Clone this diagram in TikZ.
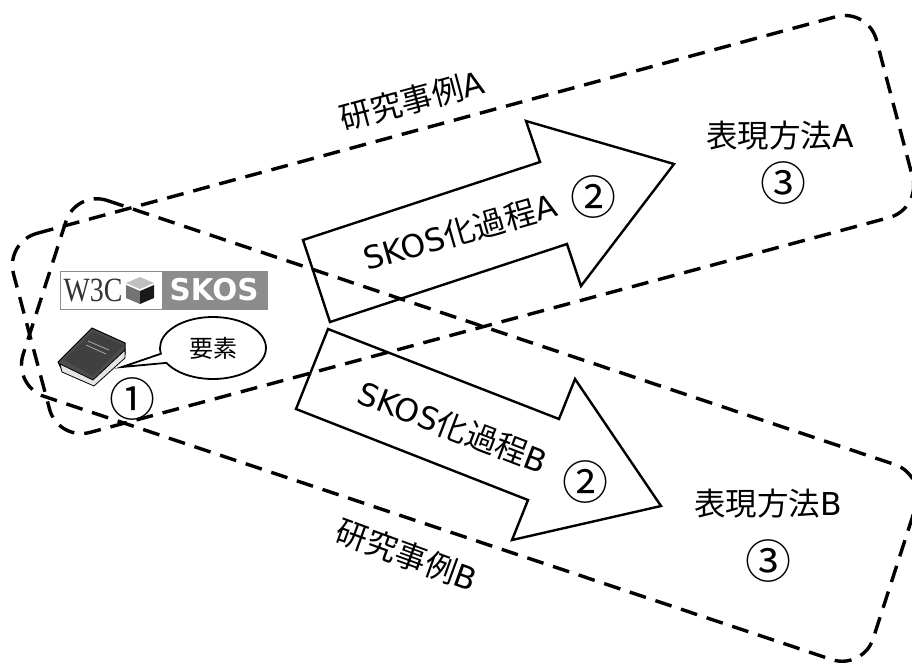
\documentclass[tikz,border=0pt]{standalone}
\usepackage{fontspec}
\setmainfont{DejaVu Sans}
\newfontfamily\jpfont{Noto Sans CJK JP}
\newfontfamily\serfont{Liberation Serif}
\usepackage{tikz}
\usetikzlibrary{positioning,shapes.callouts}
\tikzset{casebox/.style={draw,line width=3.4pt,dash pattern=on 17pt off 10pt,rounded corners=33pt},
    blockarrow/.style={draw,line width=2.4pt,line join=miter},
    caselabel/.style={font=\fontsize{31.5}{34}\selectfont\jpfont},
    numlabel/.style={font=\fontsize{46}{48}\selectfont\jpfont,inner sep=0},
    speech/.style={ellipse callout,draw,line width=1.8pt,fill=white,minimum width=106pt,minimum height=62pt,inner sep=0,font=\fontsize{24}{26}\selectfont\jpfont}
}
\newcommand{\casefour}[4]
{
% args: four corners, clockwise from top left
    \draw [casebox] #1 -- #2 -- #3 -- #4 -- cycle;
}
\newcommand{\processarrow}[7]
{
% args: tail corner, shaft join, head corner, tip, head corner, shaft join, tail corner
    \draw [blockarrow] #1 -- #2 -- #3 -- #4 -- #5 -- #6 -- #7 -- cycle;
}
\begin{document}
\begin{tikzpicture}[x=1pt,y=-1pt]
\useasboundingbox (0,0) rectangle (912,662);
\clip (0,0) rectangle (912,662);

% arrows
\processarrow{(303,240)}{(540,162)}{(526,121)}{(674,164)}{(581,286)}{(567,244)}{(330,322)}
\processarrow{(328,329)}{(559,419)}{(575,379)}{(661,506)}{(512,540)}{(528,500)}{(296,409)}

% case outlines
\casefour{(5,242)}{(868,8)}{(921,209)}{(58,441)}
\casefour{(76,190)}{(926,475)}{(863,670)}{(13,386)}

\node (labelA) [caselabel,rotate=15] at (412,100) {研究事例\fontspec{DejaVu Sans}A};
\node (labelB) [caselabel,rotate=-20] at (407,555) {研究事例\fontspec{DejaVu Sans}B};
\node (formA) [caselabel] at (780,136) {表現方法\fontspec{DejaVu Sans}A};
\node (formB) [caselabel] at (768,504) {表現方法\fontspec{DejaVu Sans}B};
\node (procA) [caselabel,rotate=16] at (460,232) {\fontspec{DejaVu Sans}SKOS\jpfont 化過程\fontspec{DejaVu Sans}A};
\node (procB) [caselabel,rotate=-21] at (453,427) {\fontspec{DejaVu Sans}SKOS\jpfont 化過程\fontspec{DejaVu Sans}B};

\node (numOne) [numlabel] at (132,399) {①};
\node (numTwoA) [numlabel] at (593,197) {②};
\node (numTwoB) [numlabel] at (585,482) {②};
\node (numThreeA) [numlabel] at (783,183) {③};
\node (numThreeB) [numlabel] at (768,561) {③};

% logo
\draw [fill=white,draw=black!45,line width=0.8pt] (60,271) rectangle (267,309);
\fill [black!45] (162,271) rectangle (267,309);
\node (w3c) [inner sep=0,font=\fontsize{34}{36}\selectfont\serfont,text=black!80,xscale=0.82] at (93,290) {W3C};
\node (skos) [inner sep=0,font=\fontsize{30}{32}\selectfont\bfseries,text=white,xscale=0.98] at (214,290) {SKOS};
\fill [black!55] (126,285) -- (140,291) -- (140,304) -- (126,298) -- cycle;
\fill [black!90] (140,291) -- (154,285) -- (154,298) -- (140,304) -- cycle;
\fill [black!25] (126,283) -- (140,277) -- (154,283) -- (140,289) -- cycle;

% book
\fill [black!70,draw=black,line width=1pt] (58,362) -- (92,328) -- (125,343) -- (125,354) -- (93,385) -- (62,370) -- cycle;
\fill [black!10,draw=black,line width=0.8pt] (60,364) -- (93,380) -- (125,350) -- (125,358) -- (94,386) -- (62,372) -- cycle;
\fill [black!75] (64,360) -- (93,332) -- (124,345) -- (93,376) -- cycle;
\draw [black!35,line width=0.8pt] (88,341) -- (109,350) (86,345) -- (106,354);

% callout
\node (yoso) [speech,callout absolute pointer={(122,367)},callout pointer arc=18] at (213,348) {要素};

\end{tikzpicture}
\end{document}
